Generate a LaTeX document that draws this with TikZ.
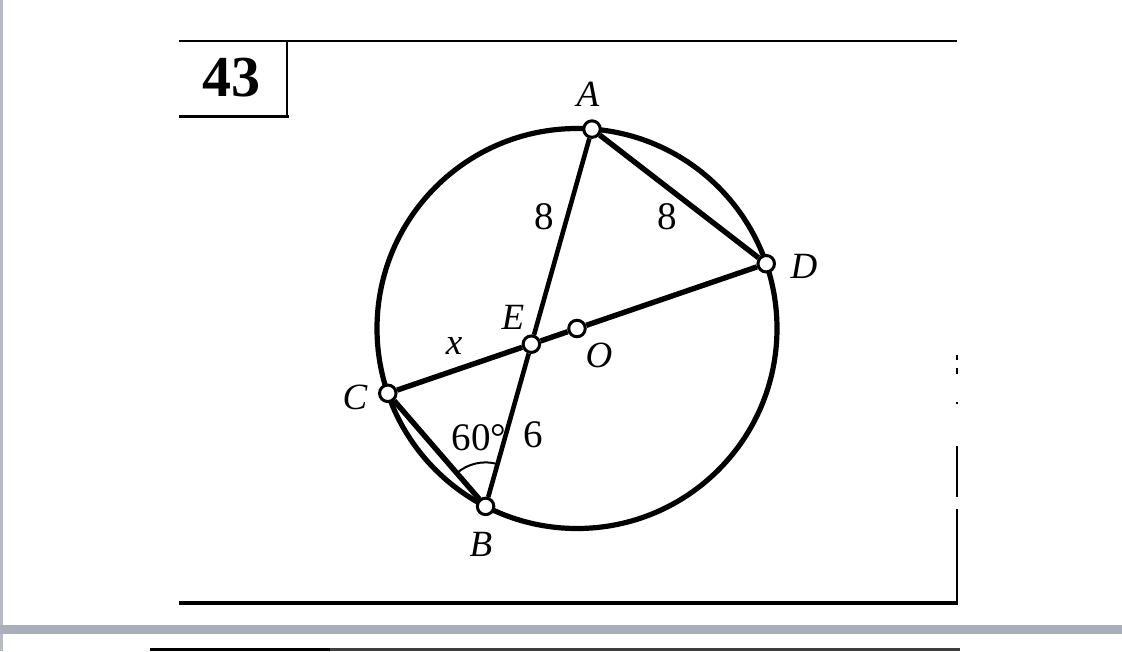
\documentclass[tikz,border=0pt]{standalone}
\usepackage{fontspec}
\setmainfont{Liberation Serif}
\usetikzlibrary{calc}
\definecolor{band}{RGB}{170,174,186}
\definecolor{edge}{RGB}{185,187,195}
\begin{document}
\begin{tikzpicture}[x=1pt,y=-1pt,
  pt/.style={circle,draw,fill=white,line width=3pt,minimum size=16.5pt,inner sep=0pt},
  seg/.style={line width=5.4pt},
  segthin/.style={line width=4.6pt},
  lab/.style={font=\fontsize{37}{37}\selectfont\itshape,inner sep=0pt},
  num/.style={font=\fontsize{39}{39}\selectfont,inner sep=0pt},
  framethin/.style={line width=2pt},
  framethick/.style={line width=3.5pt}]
\useasboundingbox (0,0) rectangle (1122,651);
\fill[white] (0,0) rectangle (1122,651);
\fill[edge] (0,0) rectangle (3,651);
\fill[band] (0,625) rectangle (1122,634);
% frame
\draw[framethin] (179,41) -- (957,41);
\draw[framethin] (287,41) -- (287,118);
\draw[framethick] (179,116.5) -- (288.5,116.5);
\draw[framethick] (179,603) -- (957.5,603);
\draw[line width=1.5pt] (957,355) -- (957,360) (957,368) -- (957,374) (957,402) -- (957,404)
  (957,446) -- (957,497) (957,509) -- (957,604);
\node[font=\fontsize{58}{58}\selectfont\bfseries,inner sep=0pt] (num43) at (231,78) {43};
% bottom strip line
\draw[line width=3pt] (150,649.5) -- (330,649.5);
\draw[line width=2.5pt,black!75] (330,649.5) -- (960,649.5);
% geometry
\coordinate (Oc) at (577,328.5);
\draw[line width=5.2pt] (Oc) circle [radius=200pt];
\node[pt] (A) at ($(Oc)+(-85.7:200)$) {};
\node[pt] (D) at ($(Oc)+(-18.9:200)$) {};
\node[pt] (C) at ($(Oc)+(161.1:200)$) {};
\node[pt] (B) at ($(Oc)+(117.2:200)$) {};
\node[pt] (O) at (Oc) {};
\node[pt] (E) at (intersection of A.center--B.center and C.center--D.center) {};
\draw[seg] (C) -- (E);
\draw[seg] (E) -- (O);
\draw[seg] (O) -- (D);
\draw[segthin] (A) -- (E);
\draw[segthin] (E) -- (B);
\draw[seg] (A) -- (D);
\draw[seg] (C) -- (B);
% angle mark at B
\draw[line width=2pt] ($(B.center)+(-131.4:44)$) arc [start angle=-131.4, end angle=-74.1, radius=44];
% labels
\node[lab] (lA) at (588,94) {A};
\node[lab] (lD) at (804,266) {D};
\node[lab] (lC) at (355,397) {C};
\node[lab] (lB) at (481,544) {B};
\node[lab] (lE) at (513,317) {E};
\node[lab] (lO) at (599,355) {O};
\node[lab] (lx) at (454,346) {x};
\node[num] (l8a) at (544,217) {8};
\node[num] (l8b) at (667,217) {8};
\node[num] (l6) at (533,435) {6};
\node[num] (l60) at (479,438) {60°};
\end{tikzpicture}
\end{document}
